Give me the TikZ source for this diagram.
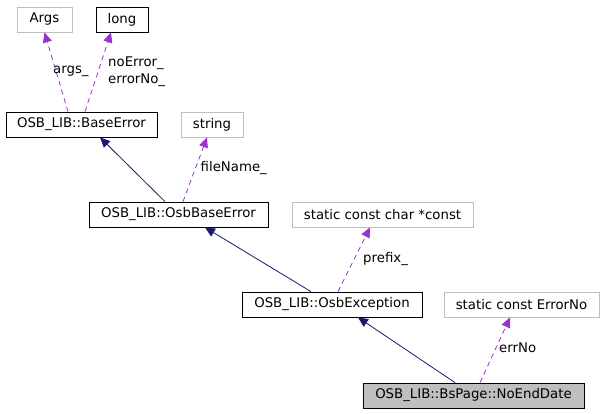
\documentclass[tikz,border=0pt]{standalone}
\usepackage{fontspec}
\newfontfamily\doxfont{DejaVu Sans}
\usepackage{tikz}
\usetikzlibrary{arrows.meta,positioning}
\usepackage{xcolor}
\definecolor{midnight}{RGB}{25,25,112}
\definecolor{orchid}{RGB}{154,50,205}
\definecolor{softgray}{RGB}{191,191,191}
\tikzset{
  classbox/.style={rectangle, draw=black, line width=0.8pt, minimum height=25pt,
                   inner sep=2pt, font=\doxfont\fontsize{13.3}{17}\selectfont},
  extbox/.style={classbox, draw=softgray},
  curbox/.style={classbox, fill=softgray},
  inherit/.style={-{Triangle[length=10pt,width=9pt]}, line width=0.8pt, midnight},
  usage/.style={-{Triangle[length=10pt,width=9pt]}, line width=0.8pt, orchid,
                dash pattern=on 5pt off 4pt},
  edgelabel/.style={anchor=west, align=left, inner sep=0pt,
                    font=\doxfont\fontsize{13.3}{17}\selectfont},
}
\begin{document}
\begin{tikzpicture}[x=1pt, y=-1pt]
\useasboundingbox (0,0) rectangle (604,413);
% classes
\node[extbox, minimum width=55pt] (args) at (44.5,19.5) {Args};
\node[classbox, minimum width=52pt] (long) at (122,19.5) {long};
\node[classbox, minimum width=151pt] (baseerr) at (81.5,124.5) {OSB\_LIB::BaseError};
\node[extbox, minimum width=62pt] (string) at (212,124.5) {string};
\node[classbox, minimum width=179pt] (osbbase) at (178.5,214.5) {OSB\_LIB::OsbBaseError};
\node[extbox, minimum width=181pt] (charconst) at (382.5,214.5) {static const char *const};
\node[classbox, minimum width=180pt] (osbexc) at (332,304.5) {OSB\_LIB::OsbException};
\node[extbox, minimum width=155pt] (errorno) at (521.5,304.5) {static const ErrorNo};
\node[curbox, minimum width=221pt] (noend) at (473.5,395.5) {OSB\_LIB::BsPage::NoEndDate};
% inheritance
\foreach \a/\da/\b/\db in {osbbase/-13.5/baseerr/18.5, osbexc/-21/osbbase/26.5, noend/-18.5/osbexc/26}
  \draw[inherit] ([xshift=\da pt]\a.north) -- ([xshift=\db pt]\b.south);
% members
\foreach \a/\da/\b/\db in {baseerr/-13.5/args/0, baseerr/3.5/long/-11, osbbase/4.5/string/-5,
                           osbexc/6/charconst/-12.5, noend/6.5/errorno/-11.5}
  \draw[usage] ([xshift=\da pt]\a.north) -- ([xshift=\db pt]\b.south);
% member names
\node[edgelabel] (largs) at (53,71) {args\_};
\node[edgelabel] (lerr) at (108,71.5) {noError\_\\errorNo\_};
\node[edgelabel] (lfile) at (200.5,168) {fileName\_};
\node[edgelabel] (lprefix) at (363,259) {prefix\_};
\node[edgelabel] (lerrno) at (499,348) {errNo};
\end{tikzpicture}
\end{document}
